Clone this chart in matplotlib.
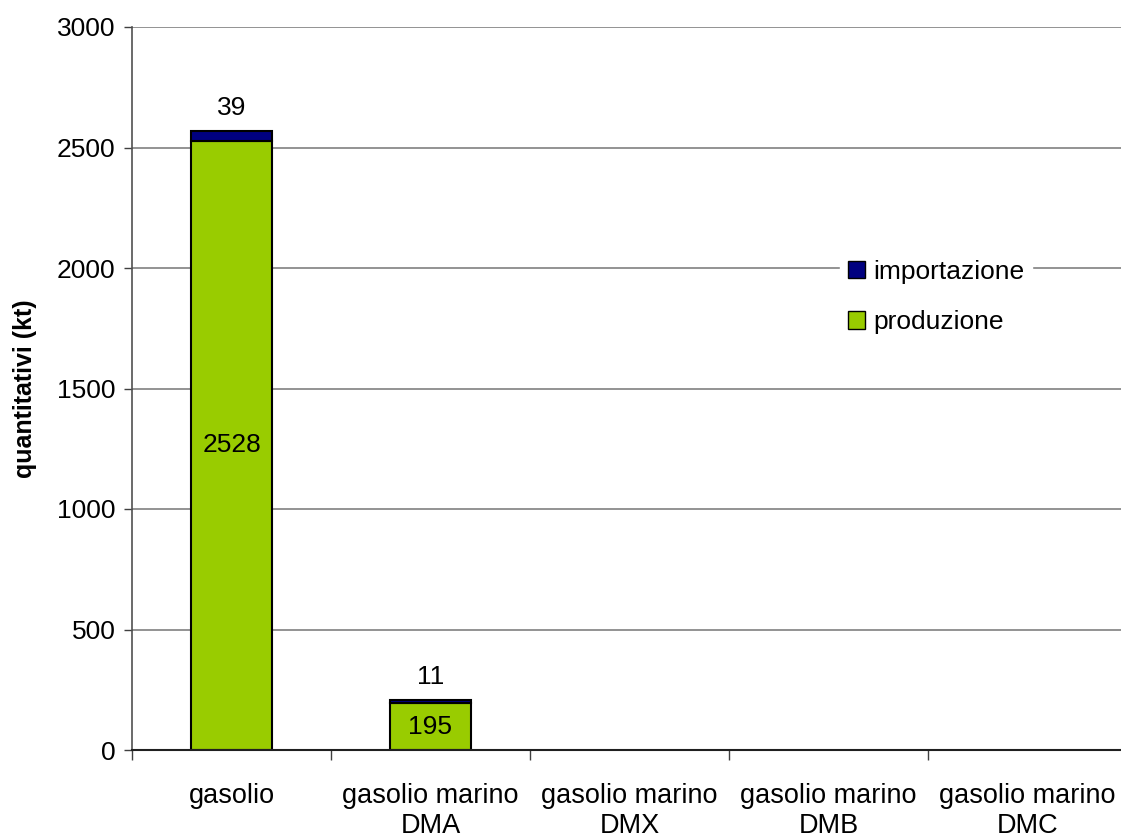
import matplotlib
matplotlib.use("Agg")
import matplotlib.pyplot as plt
from matplotlib.patches import Patch

categories = ["gasolio", "gasolio marino\nDMA", "gasolio marino\nDMX",
              "gasolio marino\nDMB", "gasolio marino\nDMC"]
produzione = [2528, 195, 0, 0, 0]
importazione = [39, 11, 0, 0, 0]
y_ticks = [0, 500, 1000, 1500, 2000, 2500, 3000]

GREEN = "#99CC00"
NAVY = "#000080"

plt.rcParams["font.family"] = ["Liberation Sans", "DejaVu Sans"]

W, H = 1121, 839
fig = plt.figure(figsize=(W / 100, H / 100), dpi=100)
ax = fig.add_axes([132 / W, 1 - 750 / H, 995 / W, 723 / H])

x = list(range(len(categories)))
bw = 0.41
lw_prod = [1.5 if v > 0 else 0 for v in produzione]
lw_imp = [1.5 if v > 0 else 0 for v in importazione]
ax.bar(x, produzione, width=bw, color=GREEN, edgecolor="black", linewidth=lw_prod, zorder=3)
ax.bar(x, importazione, width=bw, bottom=produzione, color=NAVY,
       edgecolor="black", linewidth=lw_imp, zorder=3)

# value labels: production centred in its segment, imports above the stack
for i in x:
    if produzione[i] > 0:
        ax.text(i, produzione[i] / 2, str(produzione[i]), ha="center", va="center",
                fontsize=19, zorder=4)
    if importazione[i] > 0:
        ax.annotate(str(importazione[i]), (i, produzione[i] + importazione[i]),
                    xytext=(0, 17), textcoords="offset points",
                    ha="center", va="center", fontsize=19, zorder=4)

ax.set_xlim(-0.5, len(categories) - 0.5)
ax.set_ylim(0, 3000)
ax.set_yticks(y_ticks)
ax.tick_params(axis="y", labelsize=19, length=6, width=1, color="#404040", pad=6)

# tick marks between categories, labels centred under each category
ax.set_xticks([i - 0.5 for i in range(len(categories) + 1)])
ax.set_xticklabels([])
ax.set_xticks(x, minor=True)
ax.set_xticklabels(categories, minor=True, fontsize=19.5, linespacing=1.2)
ax.tick_params(axis="x", which="major", length=7, width=1, color="#404040")
ax.tick_params(axis="x", which="minor", length=0, pad=24)

ax.yaxis.grid(True, color="#808080", linewidth=1.2, zorder=0)
ax.set_axisbelow(True)
for s in ["top", "right"]:
    ax.spines[s].set_visible(False)
ax.spines["left"].set_color("#505050")
ax.spines["left"].set_linewidth(1.2)
ax.spines["bottom"].set_color("#202020")
ax.spines["bottom"].set_linewidth(1.5)
ax.spines["bottom"].set_zorder(5)

ax.set_ylabel("quantitativi (kt)", fontsize=18, fontweight="bold", labelpad=14)

handles = [Patch(facecolor=NAVY, edgecolor="black", label="importazione"),
           Patch(facecolor=GREEN, edgecolor="black", label="produzione")]
fig.legend(handles=handles, loc="upper left",
           bbox_to_anchor=(840 / W, 1 - 252 / H), fontsize=19,
           frameon=True, framealpha=1, edgecolor="white", fancybox=False,
           handlelength=0.65, handleheight=0.65, handletextpad=0.3,
           labelspacing=1.0, borderpad=0.3, borderaxespad=0)

fig.savefig("out.png", dpi=100)
